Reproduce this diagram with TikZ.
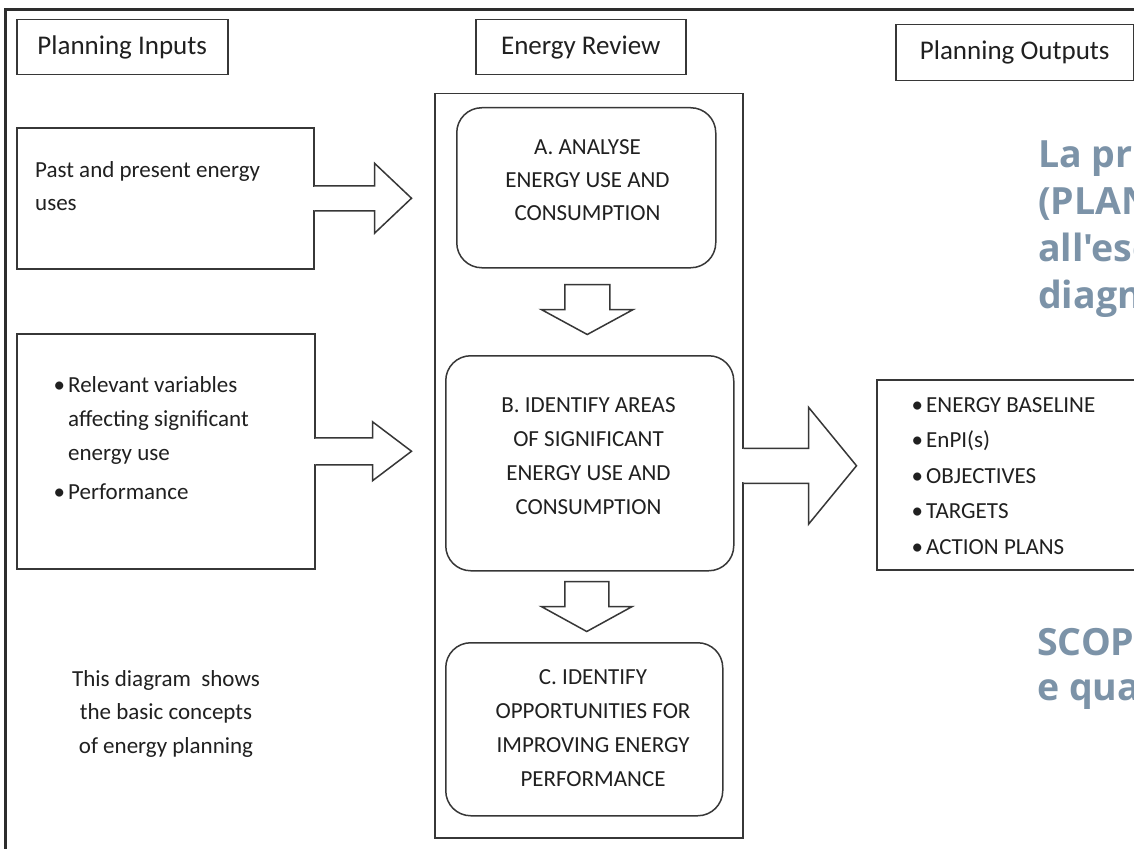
\documentclass[tikz,border=0pt]{standalone}
\usepackage{fontspec}
\setmainfont{Carlito}
\newfontfamily\grayfont{Open Sans}
\usetikzlibrary{calc}
\definecolor{linegray}{RGB}{55,55,55}
\definecolor{framegray}{RGB}{45,45,45}
\definecolor{slate}{RGB}{124,147,168}
\definecolor{txt}{RGB}{32,32,32}
\newcommand\rarrowshape[5]{%
  \fill[white] ($(#1)+(-1.2,{-#2+0.8})$) rectangle ($(#1)+(1,{#2-0.8})$);
  \draw[arrline] ($(#1)+(0,-#2)$) -- ++(#3,0) -- ++(0,{#2-#4}) -- ++(#5,#4) -- ++(-#5,#4) -- ++(0,{#2-#4}) -- ++(-#3,0);
}
\newcommand\darrowshape[5]{%
  \draw[arrline] ($(#1)+(-#2,0)$) -- ++(0,#3) -- ++({#2-#4},0) -- ++(#4,#5) -- ++(#4,-#5) -- ++({#2-#4},0) -- ++(0,-#3) -- cycle;
}
\newcommand\bul{\makebox[13pt][l]{\hspace{-1.5pt}•}}
\begin{document}
\begin{tikzpicture}[x=1pt,y=-1pt,
  box/.style={draw=linegray, line width=1.5pt, inner sep=0pt, anchor=north west},
  rbox/.style={box, rounded corners=25pt},
  hdr/.style={box, text=txt, font=\fontsize{27}{30}\selectfont},
  btxt/.style={inner sep=0pt, text=txt, align=center, font=\fontsize{23}{34}\selectfont},
  ltxt/.style={inner sep=0pt, text=txt, align=left, anchor=west},
  arrline/.style={draw=linegray, line width=1.5pt, line join=miter, fill=white},
  graytxt/.style={inner sep=0pt, anchor=base west, text=slate, font=\grayfont\bfseries\fontsize{37.5}{44}\selectfont}
]
\useasboundingbox (0,0) rectangle (1134,848);
\fill[white] (0,0) rectangle (1134,848);
% outer frame
\draw[framegray, line width=2.6pt] (5.5,850) -- (5.5,9.5) -- (1136,9.5);

% headers
\node[hdr, minimum width=211, minimum height=55] (hin) at (16,19) {Planning Inputs};
\node[hdr, minimum width=210, minimum height=55] (hrev) at (475,19) {Energy Review};
\node[hdr, minimum width=238, minimum height=56] (hout) at (895,24) {Planning Outputs};

% input boxes
\node[box, minimum width=297, minimum height=141] (past) at (16,127) {};
\node[ltxt, font=\fontsize{23}{33}\selectfont] (pasttxt) at (35,186.5) {Past and present energy\\uses};
\node[box, minimum width=298, minimum height=235] (vars) at (16,333) {};
\node[ltxt, font=\fontsize{23}{34}\selectfont] (varstxt) at (55,438) {\bul Relevant variables\\\hspace*{13pt}affecting significant\\\hspace*{13pt}energy use\\[5pt]\bul Performance};

% energy review column
\node[box, minimum width=308, minimum height=744] (review) at (434,93) {};
\node[rbox, minimum width=259, minimum height=160] (A) at (456,107) {};
\node[btxt, font=\fontsize{23}{33}\selectfont] (Atxt) at (587.5,180) {A. ANALYSE\\ENERGY USE AND\\CONSUMPTION};
\node[rbox, minimum width=288, minimum height=215] (B) at (445,355) {};
\node[btxt] (Btxt) at (588.5,456.5) {B. IDENTIFY AREAS\\OF SIGNIFICANT\\ENERGY USE AND\\CONSUMPTION};
\node[rbox, minimum width=277, minimum height=173] (C) at (445,642) {};
\node[btxt] (Ctxt) at (593,728.5) {C. IDENTIFY\\OPPORTUNITIES FOR\\IMPROVING ENERGY\\PERFORMANCE};

% outputs
\node[box, minimum width=262, minimum height=190] (outl) at (876,379) {};
\node[ltxt, font=\fontsize{23}{35.5}\selectfont] (outtxt) at (913,476) {\bul ENERGY BASELINE\\\bul EnPI(s)\\\bul OBJECTIVES\\\bul TARGETS\\\bul ACTION PLANS};

% caption
\node[btxt, font=\fontsize{23}{33.5}\selectfont] (cap) at (166,713.5) {This diagram\ \ shows\\the basic concepts\\of energy planning};

% block arrows
\rarrowshape{past.east}{12.5}{60}{35}{37}
\rarrowshape{vars.east}{13.5}{57}{29.5}{39}
\rarrowshape{review.east}{17.5}{65}{58.5}{48}
\darrowshape{$(A.south)+(1,16)$}{22.5}{25}{46}{25}
\darrowshape{$(B.south)+(-3,10)$}{22}{25}{45.5}{25}

% grey overlay text (cut off by the right edge, as in the source)
\node[graytxt] (g1) at (1038,167) {La pr};
\node[graytxt] (g2) at (1038,214) {(PLAN};
\node[graytxt] (g3) at (1038,261) {all'ese};
\node[graytxt] (g4) at (1038,308) {diagn};
\node[graytxt] (g5) at (1037,655) {SCOP};
\node[graytxt] (g6) at (1037,700) {e qua};
\end{tikzpicture}
\end{document}
